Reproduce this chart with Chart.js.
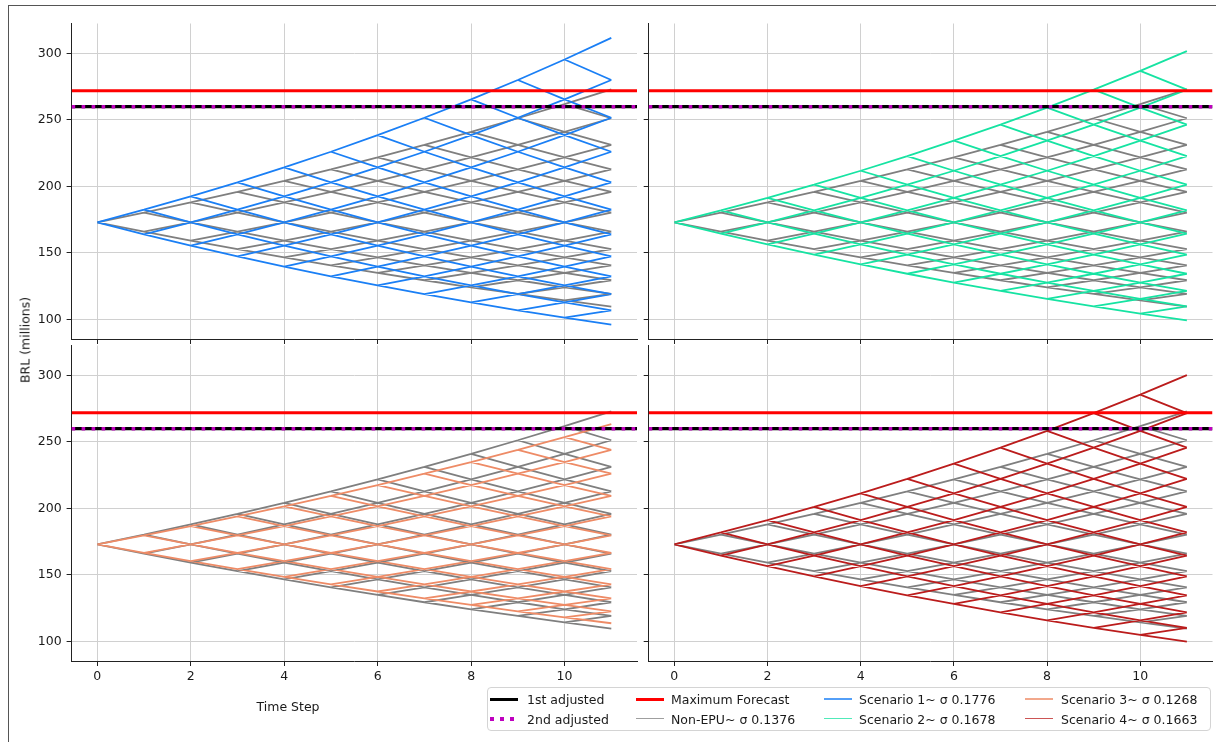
<!DOCTYPE html>
<html>
<head>
<meta charset="utf-8">
<script src="https://cdn.jsdelivr.net/npm/chart.js@4.4.1/dist/chart.umd.min.js"></script>
<style>
    body { margin: 0; background: #fff; font-family: "DejaVu Sans", sans-serif; }
    #fig { position: relative; width: 1216px; height: 742px; overflow: hidden; background: #fff; }
    #fig canvas { position: absolute; left: 0; top: 0; }
    .frame { position: absolute; left: 8px; top: 5px; width: 1400px; height: 900px; border-left: 1.5px solid #555; border-top: 1.5px solid #555; }
    .txt { position: absolute; font-size: 12.5px; color: #1a1a1a; white-space: nowrap; }
    .legend-box { position: absolute; left: 487px; top: 687px; width: 722px; height: 42px; border: 1px solid #d4d4d4; border-radius: 4px; background: #fff; }
    .handle { position: absolute; width: 28px; }
</style>
</head>
<body>
<div id="fig">
    <div class="frame"></div>
    <canvas id="panel1" width="1216" height="742"></canvas>
    <canvas id="panel2" width="1216" height="742"></canvas>
    <canvas id="panel3" width="1216" height="742"></canvas>
    <canvas id="panel4" width="1216" height="742"></canvas>
    <div class="txt" style="left:288px; top:706px; transform:translate(-50%,-50%);">Time Step</div>
    <div class="txt" style="left:25px; top:340px; transform:translate(-50%,-50%) rotate(-90deg);">BRL (millions)</div>
    <div class="legend-box"></div>
</div>
<script>
// time steps of the tree
var timeSteps = [0, 1, 2, 3, 4, 5, 6, 7, 8, 9, 10, 11];
var xTicks = [0, 2, 4, 6, 8, 10];
var yTicks = [100, 150, 200, 250, 300];

// node price levels (BRL millions), from 11 down moves to 11 up moves, middle one is the start
var nonEpuLevels = [109.6, 114.3, 119.1, 124.1, 129.4, 134.9, 140.6, 146.6, 152.8, 159.2, 166.0, 173.0,
    180.3, 188.0, 195.9, 204.2, 212.9, 221.9, 231.3, 241.1, 251.3, 262.0, 273.1];
var scenario1Levels = [96.0, 101.3, 106.8, 112.7, 118.9, 125.5, 132.4, 139.6, 147.3, 155.4, 164.0, 173.0,
    182.5, 192.6, 203.1, 214.3, 226.1, 238.6, 251.7, 265.5, 280.1, 295.5, 311.8];
var scenario2Levels = [99.2, 104.3, 109.7, 115.4, 121.4, 127.7, 134.3, 141.3, 148.6, 156.4, 164.5, 173.0,
    182.0, 191.4, 201.4, 211.8, 222.8, 234.4, 246.5, 259.3, 272.8, 286.9, 301.8];
var scenario3Levels = [113.6, 118.0, 122.6, 127.4, 132.4, 137.5, 142.9, 148.5, 154.3, 160.3, 166.5, 173.0,
    179.7, 186.7, 194.0, 201.6, 209.4, 217.6, 226.1, 234.9, 244.1, 253.6, 263.4];
var scenario4Levels = [99.7, 104.8, 110.2, 115.8, 121.8, 128.1, 134.6, 141.6, 148.8, 156.5, 164.5, 173.0,
    181.9, 191.2, 201.1, 211.4, 222.3, 233.7, 245.7, 258.4, 271.7, 285.6, 300.3];

var maxForecast = 272;
var firstAdjusted = 260;
var secondAdjusted = 260;

var seriesNames = ["1st adjusted", "2nd adjusted", "Maximum Forecast", "Non-EPU~ σ 0.1376",
    "Scenario 1~ σ 0.1776", "Scenario 2~ σ 0.1678", "Scenario 3~ σ 0.1268", "Scenario 4~ σ 0.1663"];

var xMin = -0.55, xMax = 11.55, yMin = 85.2, yMax = 322.6;
var FONT = { family: "'DejaVu Sans', sans-serif", size: 12.5 };
var TEXT = "#1a1a1a";

var colors = {
    first: "#000000", second: "#bf00bf", max: "#ff0000", nonEpu: "#7f7f7f",
    s1: "#1a7ff5", s2: "#16e3a2", s3: "#ee8b66", s4: "#bb1c1c"
};

// every edge of the recombining tree, one segment each, split by null points
function treeSegments(levels) {
    var pts = [];
    var mid = (levels.length - 1) / 2;
    for (var t = 0; t < timeSteps.length - 1; t++) {
        for (var j = -t; j <= t; j += 2) {
            var k = mid + j;
            pts.push({ x: timeSteps[t], y: levels[k] }, { x: timeSteps[t + 1], y: levels[k + 1] }, { x: timeSteps[t + 1], y: null });
            pts.push({ x: timeSteps[t], y: levels[k] }, { x: timeSteps[t + 1], y: levels[k - 1] }, { x: timeSteps[t + 1], y: null });
        }
    }
    return pts;
}

function hline(value, color, width, dash, order) {
    return {
        data: [{ x: xMin, y: value }, { x: xMax, y: value }],
        borderColor: color,
        borderWidth: width,
        borderDash: dash,
        borderCapStyle: "butt",
        pointRadius: 0,
        order: order
    };
}

var panels = [
    { id: "panel1", levels: scenario1Levels, color: colors.s1, left: 71.6, right: 637, top: 23.5, bottom: 339, showX: false, showY: true },
    { id: "panel2", levels: scenario2Levels, color: colors.s2, left: 648.7, right: 1212.5, top: 23.5, bottom: 339, showX: false, showY: false },
    { id: "panel3", levels: scenario3Levels, color: colors.s3, left: 71.6, right: 637, top: 345.5, bottom: 661, showX: true, showY: true },
    { id: "panel4", levels: scenario4Levels, color: colors.s4, left: 648.7, right: 1212.5, top: 345.5, bottom: 661, showX: true, showY: false }
];

function makePanel(p) {
    var yAxisW = p.showY ? p.left : 5;
    var xAxisH = p.showX ? 25 : 5;
    var ctx = document.getElementById(p.id).getContext("2d");
    return new Chart(ctx, {
        type: "line",
        data: {
            datasets: [
                hline(secondAdjusted, colors.second, 3.4, [3.6, 6.4], 0),
                hline(firstAdjusted, colors.first, 3.2, [], 1),
                hline(maxForecast, colors.max, 3.2, [], 1),
                {
                    data: treeSegments(p.levels),
                    borderColor: p.color,
                    borderWidth: 1.8,
                    pointRadius: 0,
                    spanGaps: false,
                    order: 2
                },
                {
                    data: treeSegments(nonEpuLevels),
                    borderColor: colors.nonEpu,
                    borderWidth: 1.8,
                    pointRadius: 0,
                    spanGaps: false,
                    order: 3
                }
            ]
        },
        options: {
            responsive: false,
            animation: false,
            devicePixelRatio: 1,
            layout: {
                autoPadding: false,
                padding: {
                    left: p.left - yAxisW,
                    right: 1216 - p.right,
                    top: p.top,
                    bottom: 742 - p.bottom - xAxisH
                }
            },
            plugins: { legend: { display: false }, tooltip: { enabled: false } },
            scales: {
                x: {
                    type: "linear",
                    min: xMin,
                    max: xMax,
                    afterBuildTicks: function (s) { s.ticks = xTicks.map(function (v) { return { value: v }; }); },
                    afterFit: function (s) { s.height = xAxisH; },
                    ticks: { display: p.showX, font: FONT, color: TEXT, padding: 3, maxRotation: 0, autoSkip: false },
                    grid: { color: "#d0d0d0", lineWidth: 1, tickColor: "#222", tickLength: 5 },
                    border: { color: "#222", width: 1 }
                },
                y: {
                    type: "linear",
                    min: yMin,
                    max: yMax,
                    afterBuildTicks: function (s) { s.ticks = yTicks.map(function (v) { return { value: v }; }); },
                    afterFit: function (s) { s.width = yAxisW; },
                    ticks: { display: p.showY, font: FONT, color: TEXT, padding: 5 },
                    grid: { color: "#d0d0d0", lineWidth: 1, tickColor: "#222", tickLength: 5 },
                    border: { color: "#222", width: 1 }
                }
            }
        }
    });
}

panels.forEach(makePanel);

// legend, filled column by column like the original
var legendHandles = [
    { color: colors.first, width: 3, dotted: false },
    { color: colors.second, width: 4, dotted: true },
    { color: colors.max, width: 3, dotted: false },
    { color: colors.nonEpu, width: 1.3, dotted: false },
    { color: colors.s1, width: 1.3, dotted: false },
    { color: colors.s2, width: 1.3, dotted: false },
    { color: colors.s3, width: 1.3, dotted: false },
    { color: colors.s4, width: 1.3, dotted: false }
];
var handleX = [490, 636, 824, 1025];
var textX = [527, 671, 859, 1061];
var rowY = [699, 718.5];
var fig = document.getElementById("fig");
seriesNames.forEach(function (name, i) {
    var col = Math.floor(i / 2), row = i % 2;
    var h = legendHandles[i];
    var hd = document.createElement("div");
    hd.className = "handle";
    hd.style.left = handleX[col] + "px";
    hd.style.top = (rowY[row] - h.width / 2) + "px";
    hd.style.height = h.width + "px";
    hd.style.opacity = h.width < 2 ? 0.75 : 1;
    if (h.dotted) {
        hd.style.background = "repeating-linear-gradient(90deg, " + h.color + " 0 4px, transparent 4px 10px)";
    } else {
        hd.style.background = h.color;
    }
    fig.appendChild(hd);
    var tx = document.createElement("div");
    tx.className = "txt";
    tx.style.left = textX[col] + "px";
    tx.style.top = rowY[row] + "px";
    tx.style.transform = "translateY(-50%)";
    tx.textContent = name;
    fig.appendChild(tx);
});
</script>
</body>
</html>
